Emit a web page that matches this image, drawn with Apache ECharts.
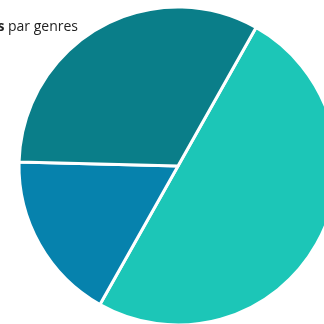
<!DOCTYPE html>
<html>
<head>
<meta charset="utf-8">
<script src="https://cdn.jsdelivr.net/npm/echarts@6/dist/echarts.min.js"></script>
<style>
  html, body { margin: 0; padding: 0; background: #fff; }
  #chart { width: 324px; height: 324px; }
</style>
</head>
<body>
<div id="chart"></div>
<script>
const genres = ['Drame', 'Documentaire', 'Comédie'];
const counts = [29, 10, 19];
const colors = ['#1cc6b7', '#0682ad', '#0a7e89'];

const myChart = echarts.init(document.getElementById('chart'));

const option = {
  animation: false,
  title: {
    text: '{b|Nombre de films} par genres',
    right: 241,
    top: 15,
    textStyle: {
      fontFamily: 'Open Sans',
      fontSize: 14,
      fontWeight: 'normal',
      color: '#222',
      rich: {
        b: { fontFamily: 'Open Sans', fontSize: 14, fontWeight: 'bold', color: '#222' }
      }
    }
  },
  series: [
    {
      name: 'Genres',
      type: 'pie',
      center: [178, 166],
      radius: 159,
      startAngle: 60.6,
      label: { show: false },
      labelLine: { show: false },
      itemStyle: { borderColor: '#fff', borderWidth: 3 },
      data: genres.map((g, i) => ({ name: g, value: counts[i], itemStyle: { color: colors[i] } }))
    }
  ]
};

option && myChart.setOption(option);
</script>
</body>
</html>
